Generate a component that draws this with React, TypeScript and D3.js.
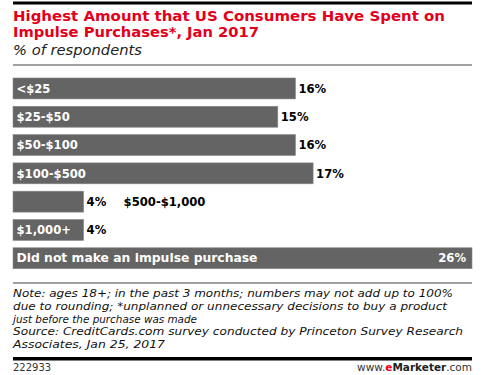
import React from "react";
import * as d3 from "d3";

const categories = ["<$25", "$25-$50", "$50-$100", "$100-$500", "$500-$1,000", "$1,000+", "Did not make an impulse purchase"];
const values = [16, 15, 16, 17, 4, 4, 26];
const titleLines = ["Highest Amount that US Consumers Have Spent on", "Impulse Purchases*, Jan 2017"];
const subtitle = "% of respondents";
const noteLines = [
  "Note: ages 18+; in the past 3 months; numbers may not add up to 100%",
  "due to rounding; *unplanned or unnecessary decisions to buy a product",
  "just before the purchase was made",
  "Source: CreditCards.com survey conducted by Princeton Survey Research",
  "Associates, Jan 25, 2017",
];
const chartId = "222933";

const W = 489;
const H = 375;
const FONT = "'DejaVu Sans', Verdana, sans-serif";
const titleLengths = [432, 246];
const noteLengths = [440, 434, 184, 450, 152];

export default function App() {
  const x = d3.scaleLinear().domain([0, 26]).range([13, 472]);
  const y = d3
    .scaleBand<string>()
    .domain(categories)
    .range([74.3, 272.4])
    .paddingInner(0.26)
    .paddingOuter(0.13);
  const bh = y.bandwidth();

  return (
    <svg width={W} height={H} style={{ position: "absolute", left: 0, top: 0, background: "#fff" }} fontFamily={FONT}>
      <rect x={0} y={0} width={W} height={H} fill="#fff" />
      <rect x={13} y={1.5} width={459} height={3} fill="#000" />
      {titleLines.map((t, i) => (
        <text key={i} x={13} y={20.5 + i * 16.8} fill="#e3001b" fontWeight={700} fontSize={14.2} textLength={titleLengths[i]} lengthAdjust="spacingAndGlyphs">
          {t}
        </text>
      ))}
      <text x={13} y={55} fontStyle="italic" fontSize={13.5} fill="#222" textLength={129} lengthAdjust="spacingAndGlyphs">{subtitle}</text>
      <rect x={13} y={64.5} width={459} height={1} fill="#444" />

      {categories.map((c, i) => {
        const v = values[i];
        const y0 = y(c)!;
        const x1 = x(v);
        const cy = y0 + bh / 2 + 4.2;
        const last = i === categories.length - 1;
        const labelInside = v >= 4 && c.length * 7.2 + 8 < x1 - 13;
        return (
          <g key={c}>
            <rect x={x(0)} y={y0} width={x1 - x(0)} height={bh} fill="#646464" stroke="#8a8a8a" strokeWidth={0.6} />
            {labelInside ? (
              <text x={16.5} y={cy} fill="#fff" fontWeight={700} fontSize={11.6}
                textLength={last ? 241 : undefined} lengthAdjust="spacingAndGlyphs">{c}</text>
            ) : (
              <text x={x1 + 40} y={cy} fill="#000" fontWeight={700} fontSize={11.6}>{c}</text>
            )}
            {last ? (
              <text x={x1 - 6} y={cy} fill="#fff" fontWeight={700} fontSize={11.6} textAnchor="end">{v}%</text>
            ) : (
              <text x={x1 + 3} y={cy} fill="#000" fontWeight={700} fontSize={11.6}>{v}%</text>
            )}
          </g>
        );
      })}

      <rect x={13} y={282.5} width={459} height={1} fill="#444" />
      {noteLines.map((t, i) => (
        <text key={i} x={13} y={297 + i * 12.75} fontStyle="italic" fontSize={10.9} fill="#111"
          textLength={noteLengths[i]} lengthAdjust="spacingAndGlyphs">{t}</text>
      ))}
      <rect x={13} y={357} width={459} height={3.5} fill="#000" />
      <text x={13} y={371} fontSize={10} fill="#333">{chartId}</text>
      <text x={472} y={371} fontSize={10.5} fill="#333" textAnchor="end">
        www.<tspan fill="#e3001b" fontWeight={700}>e</tspan><tspan fontWeight={700} fill="#222">Marketer</tspan>.com
      </text>
    </svg>
  );
}
